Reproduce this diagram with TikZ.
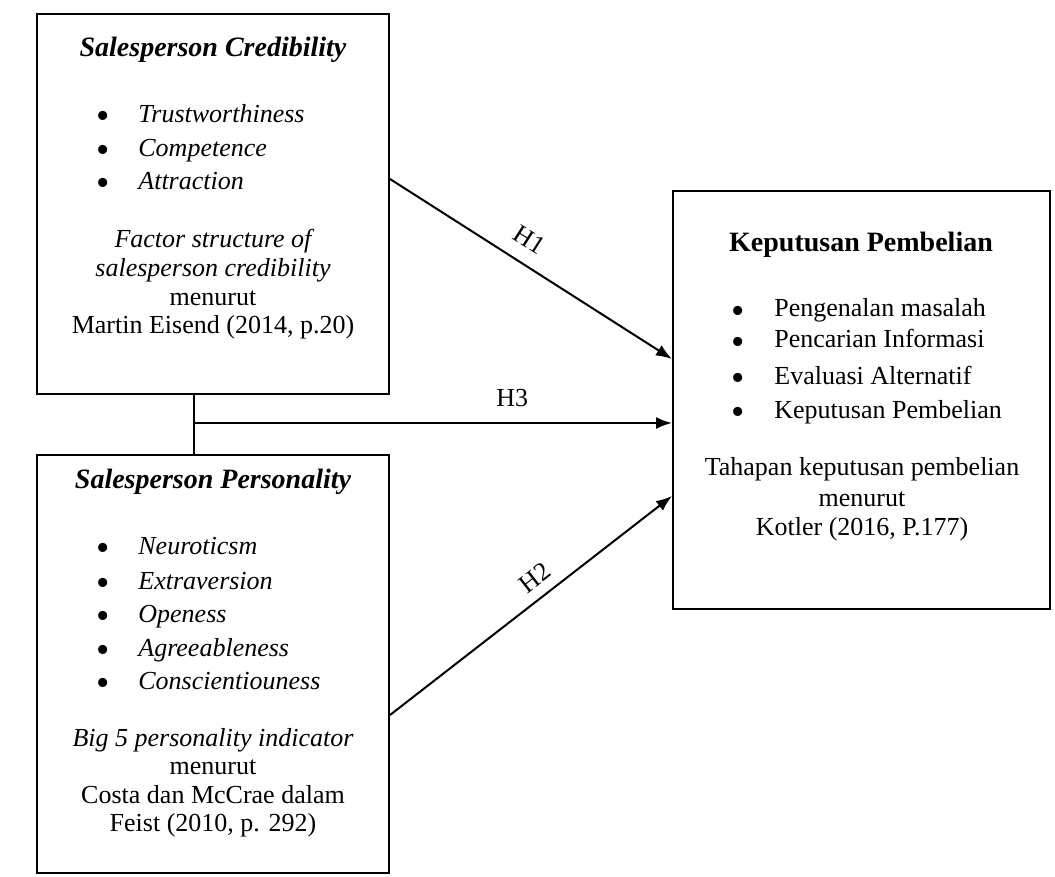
\documentclass[tikz,border=0pt]{standalone}
\usepackage{fontspec}
\setmainfont{Liberation Serif}
\usetikzlibrary{arrows.meta,positioning}

\tikzset{
  frame/.style={draw, line width=1pt, inner sep=0pt},
  hyp/.style={-{Latex[length=8pt,width=6pt]}, line width=1pt},
  txt/.style={font=\fontsize{13}{15}\selectfont, inner sep=0pt},
  dot/.style={font=\fontsize{19}{20}\selectfont, inner sep=0pt, text height=8pt, text depth=0pt, yshift=-3pt},
  head/.style={font=\fontsize{14}{16}\selectfont\bfseries, inner sep=0pt},
  hlabel/.style={font=\fontsize{13}{15}\selectfont, inner sep=0pt},
}

\begin{document}
\begin{tikzpicture}[x=0.5pt, y=-0.5pt]
    \useasboundingbox (0,0) rectangle (1055,877);

    % boxes
    \node[frame, minimum width=176pt, minimum height=190pt] (cred) at (213,204) {};
    \node[frame, minimum width=176pt, minimum height=209pt] (pers) at (213,664) {};
    \node[frame, minimum width=188.5pt, minimum height=209pt] (kep) at (861.5,400) {};

    % Salesperson Credibility
    \node[head, anchor=base] (credT) at (213,57) {\itshape Salesperson Credibility};
    \foreach \y/\t [count=\i] in {123/Trustworthiness, 157/Competence, 190/Attraction} {
        \node[dot, anchor=base] (cb\i) at (103,\y) {•};
        \node[txt, anchor=base west] (ci\i) at (138,\y) {\itshape \t};
    }
    \node[txt, anchor=base] (cs1) at (213,248) {\itshape Factor structure of};
    \node[txt, anchor=base] (cs2) at (213,277) {\itshape salesperson credibility};
    \node[txt, anchor=base] (cs3) at (213,306) {menurut};
    \node[txt, anchor=base] (cs4) at (213,334) {Martin Eisend (2014, p.20)};

    % Salesperson Personality
    \node[head, anchor=base] (persT) at (213,488) {\itshape Salesperson Personality};
    \foreach \y/\t [count=\i] in {554/Neuroticsm, 589/Extraversion, 622/Openess, 656/Agreeableness, 689/Conscientiouness} {
        \node[dot, anchor=base] (pb\i) at (103,\y) {•};
        \node[txt, anchor=base west] (pi\i) at (138,\y) {\itshape \t};
    }
    \node[txt, anchor=base] (ps1) at (213,746) {\itshape Big 5 personality indicator};
    \node[txt, anchor=base] (ps2) at (213,774) {menurut};
    \node[txt, anchor=base] (ps3) at (213,803) {Costa dan McCrae dalam};
    \node[txt, anchor=base] (ps4) at (213,831) {Feist (2010, p. 292)};

    % Keputusan Pembelian
    \node[head, anchor=base] (kepT) at (861,252) {Keputusan Pembelian};
    \foreach \y/\t [count=\i] in {317/Pengenalan masalah, 348/Pencarian Informasi, 384/Evaluasi Alternatif, 418/Keputusan Pembelian} {
        \node[dot, anchor=base] (kb\i) at (738,\y) {•};
        \node[txt, anchor=base west] (ki\i) at (774,\y) {\t};
    }
    \node[txt, anchor=base] (ks1) at (862,475) {Tahapan keputusan pembelian};
    \node[txt, anchor=base] (ks2) at (862,506) {menurut};
    \node[txt, anchor=base] (ks3) at (862,535) {Kotler (2016, P.177)};

    % hypotheses
    \coordinate (j) at (194,423);
    \draw[line width=1pt] (cred.south -| j) -- (pers.north -| j);
    \draw[hyp] (j) -- node[hlabel, pos=0.666, above=7.5pt] {H3} (j -| kep.west);
    \draw[hyp] ([yshift=12.5pt]cred.east) -- node[hlabel, pos=0.45, sloped, above=7pt] {H1} ([yshift=20.5pt]kep.west);
    \draw[hyp] ([yshift=-25.5pt]pers.east) -- node[hlabel, pos=0.556, sloped, above=5pt] {H2} ([yshift=-48pt]kep.west);
\end{tikzpicture}
\end{document}
